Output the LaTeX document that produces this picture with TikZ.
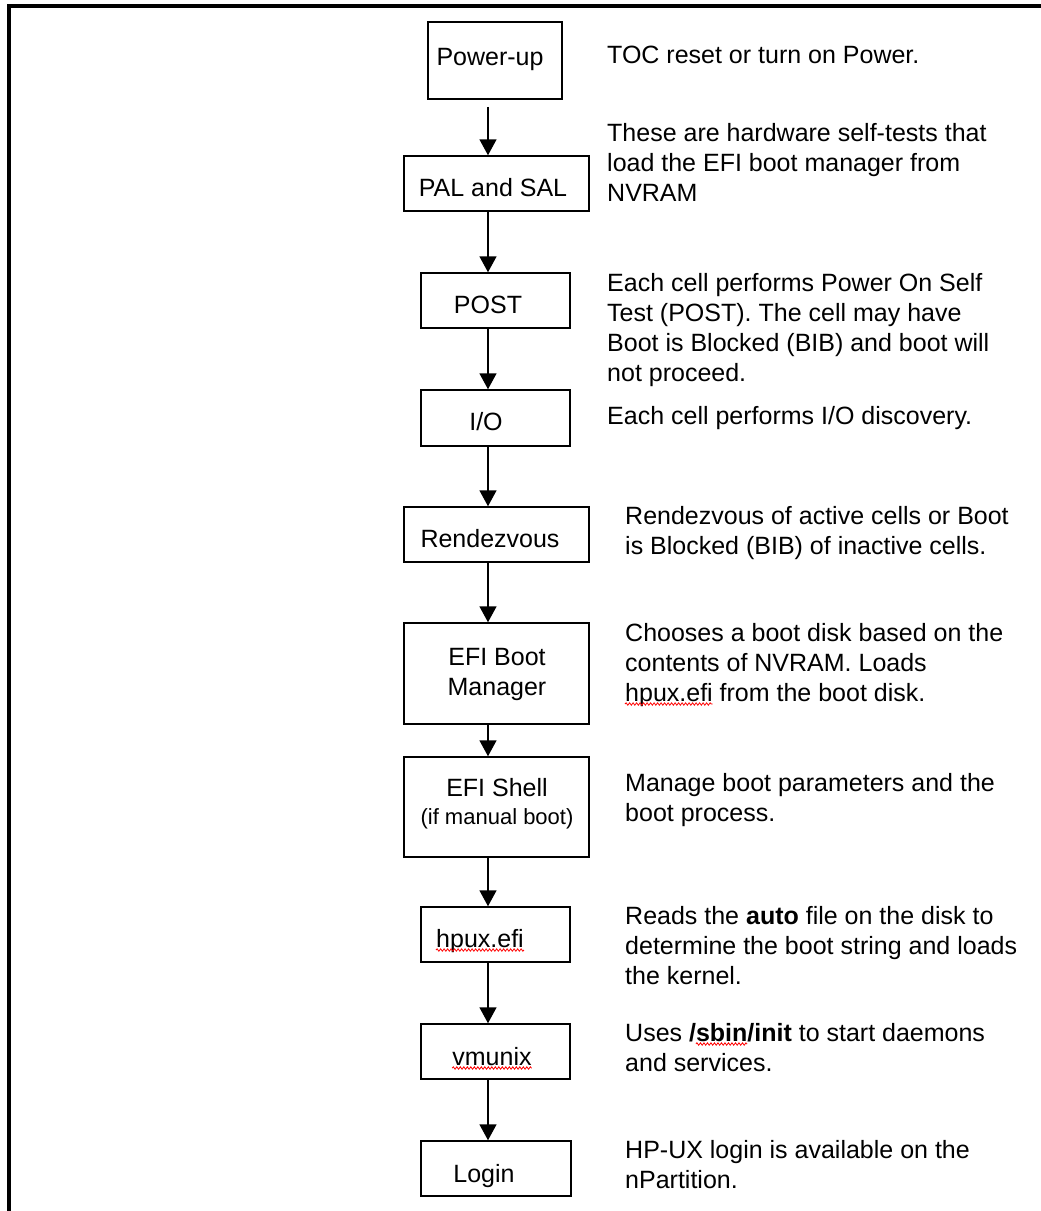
\documentclass[tikz,border=0pt]{standalone}
\usepackage{fontspec}
\setmainfont{Liberation Sans}
\usetikzlibrary{arrows.meta,decorations.pathmorphing}
\newlength\spa
\newlength\spb
\newlength\hpw
\begin{document}
\settowidth\spa{\fontsize{25}{30}\selectfont Uses \textbf{/}}%
\settowidth\spb{\fontsize{25}{30}\selectfont\textbf{sbin}}%
\settowidth\hpw{\fontsize{25}{30}\selectfont hpux.efi}%
\begin{tikzpicture}[x=1pt,y=-1pt,
  box/.style={draw=black, line width=1.5pt, rectangle, inner sep=0pt},
  lbl/.style={anchor=base, inner sep=0pt, align=center, font=\fontsize{25}{30}\selectfont},
  desc/.style={anchor=base west, inner sep=0pt, align=left, font=\fontsize{25}{30}\selectfont},
  arr/.style={line width=1.6pt, -{Triangle[width=17pt,length=16pt]}},
  squig/.style={draw=red, line width=0.8pt, decorate, decoration={snake, amplitude=1.2pt, segment length=3.5pt}},
  frame/.style={line width=4pt}]
\useasboundingbox (0,0) rectangle (1041,1211);
\draw[frame] (9,1211) |- (1041,6);

% boxes
\node[box, minimum width=134pt, minimum height=77pt] (pw) at (495,60.5) {};
\node[box, minimum width=185pt, minimum height=55pt] (pal) at (496.5,183.5) {};
\node[box, minimum width=149pt, minimum height=55pt] (post) at (495.5,300.5) {};
\node[box, minimum width=149pt, minimum height=56pt] (io) at (495.5,418) {};
\node[box, minimum width=185pt, minimum height=55pt] (rdv) at (496.5,534.5) {};
\node[box, minimum width=185pt, minimum height=101pt] (efib) at (496.5,673.5) {};
\node[box, minimum width=185pt, minimum height=100pt] (efis) at (496.5,807) {};
\node[box, minimum width=149pt, minimum height=55pt] (hpux) at (495.5,934.5) {};
\node[box, minimum width=149pt, minimum height=55pt] (vm) at (495.5,1051.5) {};
\node[box, minimum width=150pt, minimum height=55pt] (login) at (496,1168.5) {};

% box labels (base = last line)
\node[lbl] (tpw) at (490,65) {Power-up};
\node[lbl] (tpal) at (493,196) {PAL and SAL};
\node[lbl] (tpost) at (488,313) {POST};
\node[lbl] (tio) at (486,430) {I/O};
\node[lbl] (trdv) at (490,547) {Rendezvous};
\node[lbl] (tefib) at (497,695) {EFI Boot\\Manager};
\node[lbl] (tefis) at (497,824) {EFI Shell\\[-2pt]\fontsize{22}{28}\selectfont(if manual boot)};
\node[lbl] (thpux) at (480,947) {hpux.efi};
\node[lbl] (tvm) at (492,1065) {vmunix};
\node[lbl] (tlogin) at (484,1182) {Login};

% descriptions (base = last line)
\node[desc] (d1) at (607,63) {TOC reset or turn on Power.};
\node[desc] (d2) at (607,201) {These are hardware self-tests that\\load the EFI boot manager from\\NVRAM};
\node[desc] (d3) at (607,381) {Each cell performs Power On Self\\Test (POST). The cell may have\\Boot is Blocked (BIB) and boot will\\not proceed.};
\node[desc] (d4) at (607,424) {Each cell performs I/O discovery.};
\node[desc] (d5) at (625,554) {Rendezvous of active cells or Boot\\is Blocked (BIB) of inactive cells.};
\node[desc] (d6) at (625,701) {Chooses a boot disk based on the\\contents of NVRAM. Loads\\hpux.efi from the boot disk.};
\node[desc] (d7) at (625,821) {Manage boot parameters and the\\boot process.};
\node[desc] (d8) at (625,984) {Reads the \textbf{auto} file on the disk to\\determine the boot string and loads\\the kernel.};
\node[desc] (d9) at (625,1071) {Uses \textbf{/sbin/init} to start daemons\\and services.};
\node[desc] (d10) at (625,1188) {HP-UX login is available on the\\nPartition.};

% spell-check marks
\draw[squig] ([yshift=-3pt]thpux.base west) -- ([yshift=-3pt]thpux.base east);
\draw[squig] ([yshift=-3pt]tvm.base west) -- ([yshift=-3pt]tvm.base east);
\draw[squig] ([yshift=-3pt]d6.base west) -- ++(\hpw,0);
\draw[squig] ([xshift=\spa,yshift=27pt]d9.base west) -- ++(\spb,0);

% connectors
\coordinate (ax) at (488,0);
\draw[arr] ([yshift=-7pt]pw.south -| ax) -- (pal.north -| ax);
\draw[arr] (pal.south -| ax) -- (post.north -| ax);
\draw[arr] (post.south -| ax) -- (io.north -| ax);
\draw[arr] (io.south -| ax) -- (rdv.north -| ax);
\draw[arr] (rdv.south -| ax) -- (efib.north -| ax);
\draw[arr] (efib.south -| ax) -- (efis.north -| ax);
\draw[arr] (efis.south -| ax) -- (hpux.north -| ax);
\draw[arr] (hpux.south -| ax) -- (vm.north -| ax);
\draw[arr] (vm.south -| ax) -- (login.north -| ax);
\end{tikzpicture}
\end{document}
